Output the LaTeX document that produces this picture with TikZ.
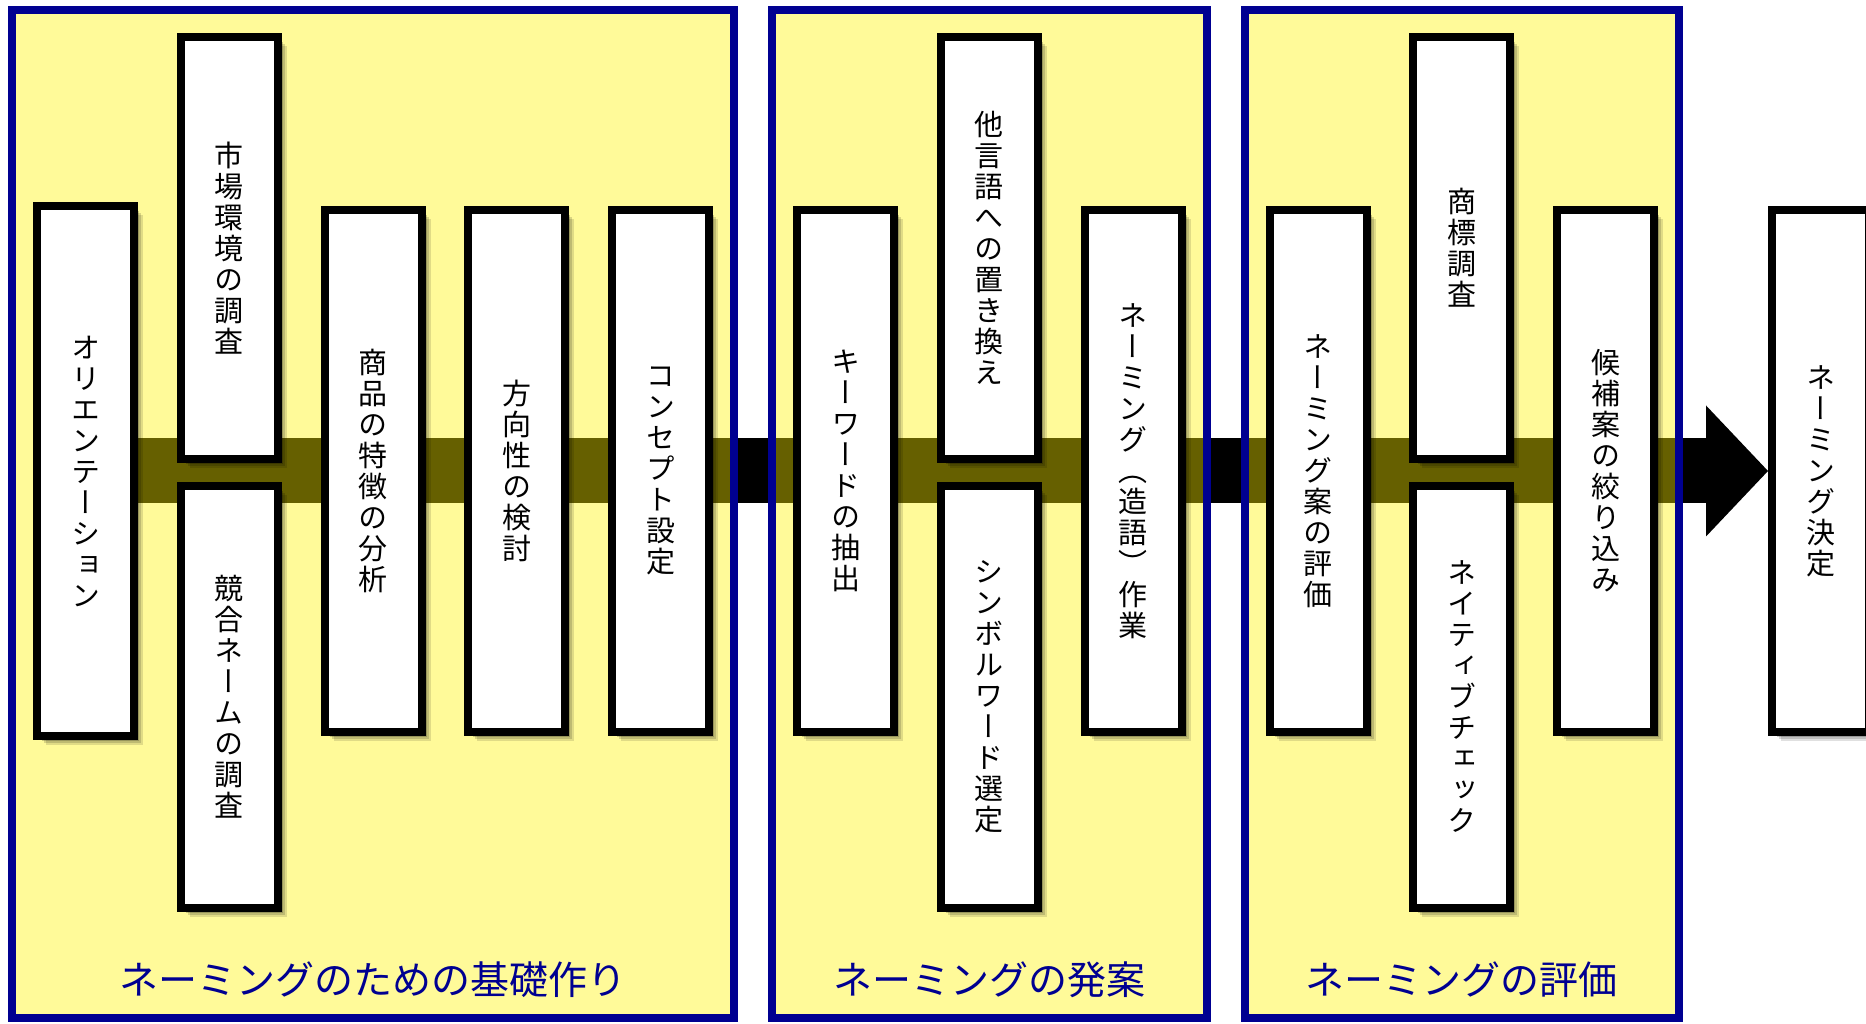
\documentclass[tikz,border=0pt]{standalone}
\usepackage{fontspec}
\usepackage{xcolor}
\usepackage{tikz}
\usetikzlibrary{arrows.meta,positioning,fit,calc,shadows,backgrounds}
\newfontfamily\tate[RawFeature=+vert]{Noto Sans CJK JP}
\newfontfamily\yoko{Noto Sans CJK JP}
\definecolor{navy}{RGB}{0,0,145}

\begin{document}
\begin{tikzpicture}[
  x=1pt, y=1pt,
  node distance=38.75pt and 38.75pt,
  box/.style={draw, line width=8pt, fill=white, minimum width=97pt, minimum height=522pt, inner sep=0pt, align=center,
    font=\tate\fontsize{29pt}{31pt}\selectfont,
    drop shadow={shadow xshift=9pt, shadow yshift=-9pt, opacity=0.12, fill=black},
    drop shadow={shadow xshift=7pt, shadow yshift=-7pt, opacity=0.15, fill=black},
    drop shadow={shadow xshift=5pt, shadow yshift=-5pt, opacity=0.2, fill=black}},
  longbox/.style={box, minimum height=530pt},
  halfbox/.style={box, minimum height=422pt},
  panel/.style={draw=navy, line width=8pt, fill=yellow, fill opacity=0.4, inner xsep=21pt, inner ysep=23pt},
  heading/.style={font=\yoko\fontsize{39pt}{39pt}\selectfont, text=navy, inner sep=0pt, text height=30pt, text depth=0pt},
  flow/.style={line width=65pt, -{Triangle[length=62pt, width=131pt, line width=0pt]}}]
  \useasboundingbox (0,0) rectangle (1866,1024);
  % Groundwork
  \node[longbox] (orient) at (85.5,553) {オ\\リ\\エ\\ン\\テ\\ー\\シ\\ョ\\ン};
  \node[halfbox, right=38.75pt of orient, yshift=223pt] (market) {市\\場\\環\\境\\の\\調\\査};
  \node[halfbox, below=19pt of market] (rival) {競\\合\\ネ\\ー\\ム\\の\\調\\査};
  \node[box, right=182.5pt of orient] (product) {商\\品\\の\\特\\徴\\の\\分\\析};
  \node[box, right=38.75pt of product] (direction) {方\\向\\性\\の\\検\\討};
  \node[box, right=38.75pt of direction] (concept) {コ\\ン\\セ\\プ\\ト\\設\\定};
  \node[heading] (t1) at ($(orient.west |- rival.south)!0.5!(concept.east |- rival.south)+(0,-68pt)$) {ネーミングのための基礎作り};
  % Ideas
  \node[box, right=80pt of concept] (keyword) {キ\\ー\\ワ\\ー\\ド\\の\\抽\\出};
  \node[halfbox, right=38.75pt of keyword, yshift=223pt] (otherlang) {他\\言\\語\\へ\\の\\置\\き\\換\\え};
  \node[halfbox, below=19pt of otherlang] (symbol) {シ\\ン\\ボ\\ル\\ワ\\ー\\ド\\選\\定};
  \node[box, right=182.5pt of keyword] (coin) {ネ\\ー\\ミ\\ン\\グ\\（\\造\\語\\）\\作\\業};
  \node[heading] (t2) at ($(symbol.south)+(0,-68pt)$) {ネーミングの発案};
  % Evaluation
  \node[box, right=80pt of coin] (evaluate) {ネ\\ー\\ミ\\ン\\グ\\案\\の\\評\\価};
  \node[halfbox, right=38.75pt of evaluate, yshift=223pt] (trademark) {商\\標\\調\\査};
  \node[halfbox, below=19pt of trademark] (native) {ネ\\イ\\テ\\ィ\\ブ\\チ\\ェ\\ッ\\ク};
  \node[box, right=182.5pt of evaluate] (shortlist) {候\\補\\案\\の\\絞\\り\\込\\み};
  \node[heading] (t3) at ($(native.south)+(0,-68pt)$) {ネーミングの評価};
  % Result
  \node[box, right=110pt of shortlist] (decide) {ネ\\ー\\ミ\\ン\\グ\\決\\定};
  % arrow and panels behind
  \begin{scope}[on background layer]
    \draw[flow] (orient.center) -- (decide.west);
    \node[panel, fit=(orient)(market)(rival)(concept)(t1)] (found) {};
    \node[panel, fit=(keyword)(otherlang)(symbol)(coin)(t2)] (ideas) {};
    \node[panel, fit=(evaluate)(trademark)(native)(shortlist)(t3)] (review) {};
  \end{scope}
\end{tikzpicture}
\end{document}
